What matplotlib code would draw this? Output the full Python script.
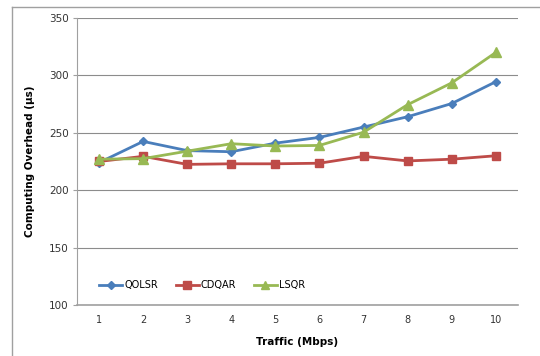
import matplotlib.pyplot as plt
from matplotlib.lines import Line2D

# --- data ---
traffic = [1, 2, 3, 4, 5, 6, 7, 8, 9, 10]
qolsr = [224, 242.5, 234.5, 233.5, 241, 246, 255, 264, 275.5, 294.5]
cdqar = [225, 229.5, 222.5, 223, 223, 223.5, 229.5, 225.5, 227, 230]
lsqr = [227, 227.5, 234, 240.5, 238.5, 239, 250.5, 274.5, 293.5, 320]

plt.rcParams.update({
    "font.family": "DejaVu Sans",
    "font.size": 7,
})

fig = plt.figure(figsize=(5.4, 3.56), dpi=100)
ax = fig.add_axes([0.1426, 0.1433, 0.8164, 0.8061])

ax.plot(traffic, qolsr, '-D', color='#4A7EBB', lw=2, markersize=4.5, label='QOLSR')
ax.plot(traffic, cdqar, '-s', color='#BE4B48', lw=2, markersize=6, label='CDQAR')
ax.plot(traffic, lsqr, '-^', color='#98B954', lw=2, markersize=6.5, label='LSQR')

ax.set_xlim(0.5, 10.5)
ax.set_ylim(100, 350)
ax.set_xticks(traffic)
ax.set_yticks([100, 150, 200, 250, 300, 350])
ax.tick_params(axis='x', length=0, pad=7, labelsize=7, colors='#333333')
ax.tick_params(axis='y', length=3, color='#A0A0A0', pad=3, labelsize=7.5, labelcolor='#333333')

ax.grid(True, axis='y', color='#8C8C8C', lw=0.8)
ax.set_axisbelow(True)
for s in ['top', 'right']:
    ax.spines[s].set_visible(False)
ax.spines['left'].set_color('#A0A0A0')
ax.spines['bottom'].set_color('#A0A0A0')
ax.spines['bottom'].set_linewidth(1.2)

ax.set_xlabel('Traffic (Mbps)', fontweight='bold', fontsize=7.5, labelpad=9)
ax.set_ylabel('Computing Overhead (\u03bcs)', fontweight='bold', fontsize=7.5, labelpad=10)

ax.legend(loc='lower left', bbox_to_anchor=(0.03, 0.02), ncol=3, frameon=False,
          fontsize=7, handlelength=2.4, handletextpad=0.2, columnspacing=1.8,
          markerscale=0.9)

# outer chart frame (top and left edges visible)
fig.add_artist(Line2D([12 / 540, 1], [1 - 7 / 356, 1 - 7 / 356], color='#A0A0A0', lw=1))
fig.add_artist(Line2D([12 / 540, 12 / 540], [0, 1 - 7 / 356], color='#A0A0A0', lw=1))

fig.savefig('out.png', dpi=100)
